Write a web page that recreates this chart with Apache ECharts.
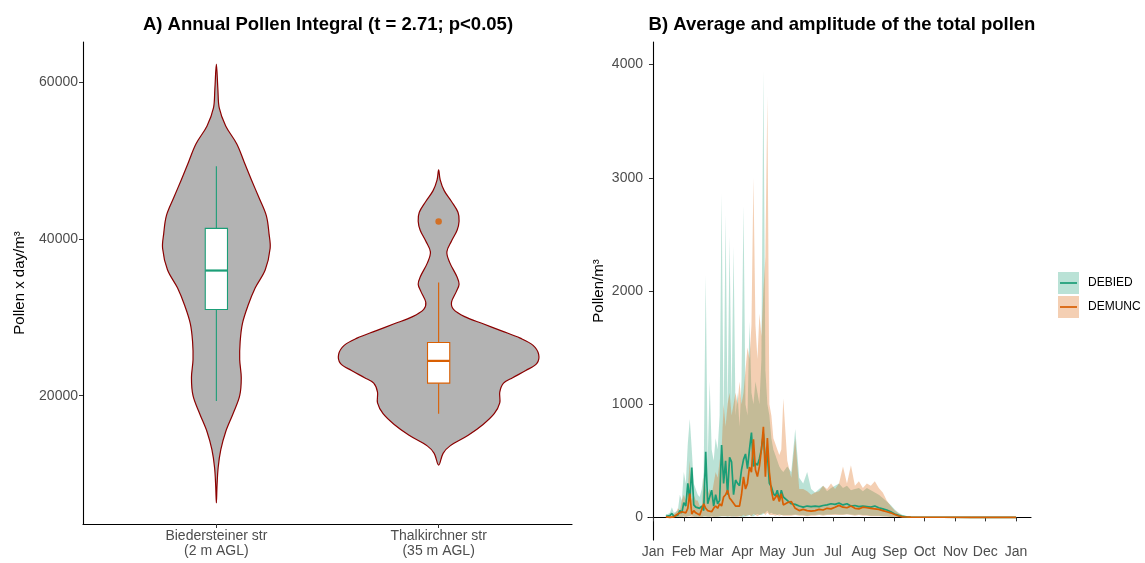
<!DOCTYPE html>
<html>
<head>
<meta charset="utf-8">
<script src="https://cdn.jsdelivr.net/npm/echarts@6/dist/echarts.min.js"></script>
<style>
  html, body { margin: 0; padding: 0; background: #fff; }
  #chart { width: 1145px; height: 563px; }
</style>
</head>
<body>
<div id="chart"></div>
<script>
// ---------- A) annual pollen integral ----------
const sites = ['Biedersteiner str\n(2 m AGL)', 'Thalkirchner str\n(35 m AGL)'];
const siteColors = ['#1B9E77', '#D95F02'];
const integralTicks = [20000, 40000, 60000];

// violin outlines, bottom to top: pollen value and half width (category units)
const violinBiedY = [6330, 8520, 10820, 13110, 15410, 17700, 20000, 22290, 24590, 26880, 29170, 31460, 33750,
  36050, 38800, 40640, 42930, 45230, 47510, 49810, 52100, 54400, 56690, 58990, 62290];
const violinBiedW = [0, .003, .008, .020, .042, .075, .105, .112, .105, .107, .117, .142, .175,
  .220, .242, .237, .225, .192, .158, .125, .092, .042, .013, .007, 0];
const violinThalY = [11140, 12650, 13570, 14950, 16330, 17700, 19080, 20460, 21600, 22290, 23210, 24130, 25270,
  26420, 27340, 28260, 29170, 30080, 31000, 31920, 33300, 34210, 35130, 36970, 38340, 39720, 41100, 42250,
  43387, 44767, 46146, 47515, 48805];
const violinThalW = [0, .020, .050, .133, .200, .250, .275, .275, .292, .333, .392, .442, .450,
  .425, .367, .283, .200, .117, .067, .058, .080, .092, .083, .050, .037, .058, .083, .092,
  .087, .058, .025, .007, 0];

// boxplot stats: [lower whisker, q1, median, q3, upper whisker]
const boxBied = [19310, 31000, 35960, 41330, 49260];
const boxThal = [17700, 21600, 24440, 26790, 34440];
const outlierThal = [42200];

// ---------- B) daily average and amplitude ----------
const monthLabels = ['Jan', 'Feb', 'Mar', 'Apr', 'May', 'Jun', 'Jul', 'Aug', 'Sep', 'Oct', 'Nov', 'Dec', 'Jan'];
const monthStarts = [0, 31, 59, 90, 120, 151, 181, 212, 243, 273, 304, 334, 365];
const pollenTicks = [0, 1000, 2000, 3000, 4000];

// day of year
const seasonDays = [
  13, 15, 17, 19, 21, 23, 25, 27, 29, 31,
  33, 35, 37, 39, 41, 43, 45, 47, 49, 51,
  53, 55, 57, 59, 61, 63, 65, 67, 69, 71,
  73, 75, 77, 79, 81, 83, 85, 87, 89, 91,
  93, 95, 97, 99, 101, 103, 105, 107, 109, 111,
  113, 115, 117, 119, 121, 123, 125, 127, 129, 131,
  135, 139, 143, 147, 151, 155, 159, 163, 167, 171, 175, 179, 183, 187, 191, 195,
  199, 203, 207, 211, 215, 219, 223, 227, 231, 235, 239, 243, 247, 251, 255, 259,
  270, 290, 320, 350, 365
];
const biedMean = [
  10, 8, 15, 35, 10, 15, 20, 60, 40, 130,
  100, 300, 150, 440, 110, 90, 100, 80, 100, 60,
  580, 120, 180, 240, 100, 200, 120, 150, 640, 300,
  500, 200, 530, 490, 200, 330, 300, 280, 420, 510,
  560, 430, 600, 750, 450, 480, 460, 520, 600, 740,
  480, 560, 300, 270, 210, 190, 240, 150, 240, 180,
  150, 120, 115, 100, 90, 100, 95, 100, 95, 105, 110, 120, 115, 127, 110, 120,
  100, 105, 95, 100, 95, 90, 100, 85, 75, 65, 50, 30, 18, 8, 4, 2,
  1, 1, 0, 0, 0
];
const muncMean = [
  5, 2, 0, 0, 5, 10, 30, 20, 50, 60,
  40, 80, 210, 30, 60, 40, 50, 20, 10, 120,
  80, 60, 70, 50, 80, 100, 80, 120, 100, 180,
  200, 240, 170, 150, 150, 100, 90, 100, 200, 357,
  250, 300, 445, 400, 690, 420, 360, 450, 600, 800,
  360, 700, 400, 240, 150, 160, 200, 140, 210, 110,
  130, 140, 80, 60, 70, 60, 55, 60, 70, 65, 80, 75, 90, 106, 90, 85,
  100, 80, 75, 90, 85, 80, 75, 70, 60, 50, 40, 25, 12, 5, 3, 2,
  1, 1, 0, 0, 0
];
const biedHigh = [
  30, 30, 40, 90, 40, 50, 60, 200, 150, 400,
  300, 650, 870, 600, 300, 250, 200, 180, 250, 400,
  2140, 500, 1200, 600, 500, 700, 600, 900, 2860, 800,
  2670, 900, 2480, 1000, 2390, 900, 1100, 800, 1200, 2750,
  1000, 900, 1730, 1100, 1000, 1200, 1100, 1000, 1400, 3940,
  1300, 1000, 900, 700, 600, 550, 500, 450, 420, 400,
  450, 400, 780, 350, 300, 400, 250, 220, 250, 280, 230, 260, 280, 300, 260, 280,
  240, 250, 260, 230, 260, 240, 220, 200, 170, 140, 110, 70, 40, 20, 10, 5,
  3, 2, 1, 1, 1
];
const biedLow = [
  0, 0, 0, 5, 0, 0, 0, 5, 0, 10,
  5, 10, 10, 20, 5, 5, 5, 5, 5, 5,
  10, 5, 5, 10, 5, 5, 5, 5, 10, 10,
  10, 5, 10, 10, 5, 10, 10, 10, 5, 5,
  10, 10, 20, 10, 10, 20, 30, 20, 20, 30,
  40, 60, 30, 40, 30, 30, 20, 30, 20, 20,
  20, 20, 25, 20, 20, 15, 20, 20, 25, 20, 25, 25, 30, 25, 25, 30,
  25, 20, 25, 20, 20, 15, 15, 15, 10, 10, 5, 5, 3, 2, 1, 0,
  0, 0, 0, 0, 0
];
const muncHigh = [
  10, 10, 10, 15, 30, 40, 80, 60, 150, 200,
  150, 250, 500, 150, 200, 150, 150, 100, 80, 350,
  250, 200, 250, 200, 300, 400, 350, 500, 600, 1000,
  800, 1000, 1100, 900, 1000, 1100, 1000, 1200, 1000, 1100,
  1300, 1500, 1400, 1700, 3000, 1700, 1400, 1800, 1600, 2000,
  2300, 3720, 1000, 900, 700, 650, 600, 550, 600, 1050,
  500, 350, 700, 250, 250, 230, 200, 220, 230, 280, 250, 300, 250, 300, 450, 300,
  460, 280, 320, 260, 300, 280, 320, 260, 220, 150, 100, 60, 35, 15, 8, 4,
  3, 2, 1, 1, 1
];
const muncLow = [
  0, 0, 0, 0, 0, 0, 5, 0, 5, 5,
  0, 5, 10, 0, 5, 0, 5, 0, 0, 10,
  5, 5, 5, 5, 5, 5, 5, 10, 10, 10,
  10, 10, 10, 5, 10, 5, 5, 10, 10, 20,
  10, 20, 20, 10, 30, 20, 10, 20, 30, 40,
  20, 40, 20, 20, 20, 15, 20, 15, 20, 15,
  15, 15, 20, 15, 15, 10, 15, 15, 20, 15, 20, 20, 20, 20, 20, 25,
  20, 15, 20, 15, 15, 10, 10, 10, 8, 5, 4, 3, 2, 1, 1, 0,
  0, 0, 0, 0, 0
];
const stations = ['DEBIED', 'DEMUNC'];

const FONT = '"Liberation Sans", Arial, Helvetica, sans-serif';
const tickText = { color: '#4D4D4D', fontSize: 14, fontFamily: FONT };

const pairs = vals => seasonDays.map((d, i) => [d, vals[i]]);

const violins = [
  { x: 1, ys: violinBiedY, ws: violinBiedW },
  { x: 2, ys: violinThalY, ws: violinThalW }
];

// one polygon per band: upper edge left to right, lower edge back
function bandSeries(hi, lo, color) {
  return {
    type: 'custom', xAxisIndex: 1, yAxisIndex: 1,
    data: seasonDays.map((d, i) => [d, hi[i], lo[i]]),
    encode: { x: 0, y: [1, 2] },
    renderItem: function (params, api) {
      if (params.dataIndex !== 0) return null;
      const pts = [];
      for (let i = 0; i < seasonDays.length; i++) pts.push(api.coord([seasonDays[i], hi[i]]));
      for (let i = seasonDays.length - 1; i >= 0; i--) pts.push(api.coord([seasonDays[i], lo[i]]));
      return {
        type: 'polygon',
        shape: { points: pts },
        style: { fill: color, opacity: 0.3 }
      };
    },
    z: 2
  };
}

const chart = echarts.init(document.getElementById('chart'));

const option = {
  animation: false,
  grid: [
    { left: 83, top: 42, width: 489, height: 482 },
    { left: 648, top: 42, width: 383, height: 498 }
  ],
  xAxis: [
    {
      gridIndex: 0, type: 'value', min: 0.4, max: 2.6,
      axisLine: { lineStyle: { color: '#000', width: 1.1 } },
      axisTick: { customValues: [1, 2], length: 4, lineStyle: { color: '#333' } },
      axisLabel: Object.assign({
        customValues: [1, 2], margin: 5, lineHeight: 15,
        formatter: v => sites[Math.round(v) - 1]
      }, tickText),
      splitLine: { show: false }
    },
    {
      gridIndex: 1, type: 'value', min: -5, max: 380,
      axisLine: { lineStyle: { color: '#000', width: 1.1 } },
      axisTick: { customValues: monthStarts, length: 4, lineStyle: { color: '#333' } },
      axisLabel: Object.assign({
        customValues: monthStarts, margin: 5,
        formatter: v => monthLabels[monthStarts.indexOf(v)]
      }, tickText),
      splitLine: { show: false }
    }
  ],
  yAxis: [
    {
      gridIndex: 0, type: 'value', min: 3640, max: 65100,
      name: 'Pollen x day/m³', nameLocation: 'middle', nameRotate: 90, nameGap: 56,
      nameTextStyle: { color: '#000', fontSize: 15, fontFamily: FONT },
      axisLine: { show: true, lineStyle: { color: '#000', width: 1.1 } },
      axisTick: { show: true, customValues: integralTicks, length: 4, lineStyle: { color: '#333' } },
      axisLabel: Object.assign({ customValues: integralTicks, margin: 5, formatter: v => String(v) }, tickText),
      splitLine: { show: false }
    },
    {
      gridIndex: 1, type: 'value', min: -200, max: 4200,
      name: 'Pollen/m³', nameLocation: 'middle', nameRotate: 90, nameGap: 42,
      nameTextStyle: { color: '#000', fontSize: 15, fontFamily: FONT },
      axisLine: { show: true, lineStyle: { color: '#000', width: 1.1 } },
      axisTick: { show: true, customValues: pollenTicks, length: 4, lineStyle: { color: '#333' } },
      axisLabel: Object.assign({ customValues: pollenTicks, margin: 5, formatter: v => String(v) }, tickText),
      splitLine: { show: false }
    }
  ],
  series: [
    // violins
    {
      type: 'custom', xAxisIndex: 0, yAxisIndex: 0,
      data: violins.map(v => [v.x, v.ys[0]]),
      renderItem: function (params, api) {
        const v = violins[params.dataIndex];
        const pts = [];
        for (let k = 0; k < v.ys.length; k++) pts.push(api.coord([v.x + v.ws[k], v.ys[k]]));
        for (let k = v.ys.length - 2; k > 0; k--) pts.push(api.coord([v.x - v.ws[k], v.ys[k]]));
        return {
          type: 'polygon',
          shape: { points: pts, smooth: 0.35 },
          style: { fill: '#B3B3B3', stroke: '#8B0000', lineWidth: 1.2 }
        };
      },
      z: 2
    },
    // boxplots
    {
      type: 'custom', xAxisIndex: 0, yAxisIndex: 0,
      data: [[1].concat(boxBied), [2].concat(boxThal)],
      renderItem: function (params, api) {
        const x = api.value(0);
        const col = siteColors[params.dataIndex];
        const lo = api.coord([x, api.value(1)]);
        const q1 = api.coord([x - 0.05, api.value(2)]);
        const med = api.coord([x - 0.05, api.value(3)]);
        const q3 = api.coord([x + 0.05, api.value(4)]);
        const hi = api.coord([x, api.value(5)]);
        const line = { stroke: col, lineWidth: 1.1 };
        return {
          type: 'group',
          children: [
            { type: 'line', shape: { x1: lo[0], y1: lo[1], x2: lo[0], y2: q1[1] }, style: line },
            { type: 'line', shape: { x1: hi[0], y1: q3[1], x2: hi[0], y2: hi[1] }, style: line },
            { type: 'rect', shape: { x: q1[0], y: q3[1], width: q3[0] - q1[0], height: q1[1] - q3[1] },
              style: { fill: '#fff', stroke: col, lineWidth: 1.1 } },
            { type: 'line', shape: { x1: q1[0], y1: med[1], x2: q3[0], y2: med[1] },
              style: { stroke: col, lineWidth: 2.2 } }
          ]
        };
      },
      z: 3
    },
    {
      type: 'scatter', xAxisIndex: 0, yAxisIndex: 0,
      data: outlierThal.map(v => [2, v]),
      symbolSize: 6.5, itemStyle: { color: siteColors[1] }, z: 4
    },
    // amplitude bands
    bandSeries(biedHigh, biedLow, siteColors[0]),
    bandSeries(muncHigh, muncLow, siteColors[1]),
    // averages
    {
      name: stations[0], type: 'line', xAxisIndex: 1, yAxisIndex: 1,
      data: pairs(biedMean), symbol: 'none',
      lineStyle: { color: siteColors[0], width: 1.7 }, z: 3
    },
    {
      name: stations[1], type: 'line', xAxisIndex: 1, yAxisIndex: 1,
      data: pairs(muncMean), symbol: 'none',
      lineStyle: { color: siteColors[1], width: 1.7 }, z: 4
    }
  ],
  graphic: [
    { type: 'text', x: 328, y: 25,
      style: { text: 'A) Annual Pollen Integral (t = 2.71; p<0.05)', font: 'bold 18.5px ' + FONT,
        fill: '#000', align: 'center', verticalAlign: 'middle' } },
    { type: 'text', x: 842, y: 25,
      style: { text: 'B) Average and amplitude of the total pollen', font: 'bold 18.5px ' + FONT,
        fill: '#000', align: 'center', verticalAlign: 'middle' } },
    // legend
    { type: 'rect', shape: { x: 1058, y: 272, width: 21, height: 22 },
      style: { fill: siteColors[0], opacity: 0.3 } },
    { type: 'line', shape: { x1: 1060, y1: 283, x2: 1077, y2: 283 },
      style: { stroke: siteColors[0], lineWidth: 1.7 } },
    { type: 'text', x: 1088, y: 283,
      style: { text: stations[0], font: '12px ' + FONT, fill: '#000', verticalAlign: 'middle' } },
    { type: 'rect', shape: { x: 1058, y: 296, width: 21, height: 22 },
      style: { fill: siteColors[1], opacity: 0.3 } },
    { type: 'line', shape: { x1: 1060, y1: 307, x2: 1077, y2: 307 },
      style: { stroke: siteColors[1], lineWidth: 1.7 } },
    { type: 'text', x: 1088, y: 307,
      style: { text: stations[1], font: '12px ' + FONT, fill: '#000', verticalAlign: 'middle' } }
  ]
};

chart.setOption(option);
</script>
</body>
</html>
